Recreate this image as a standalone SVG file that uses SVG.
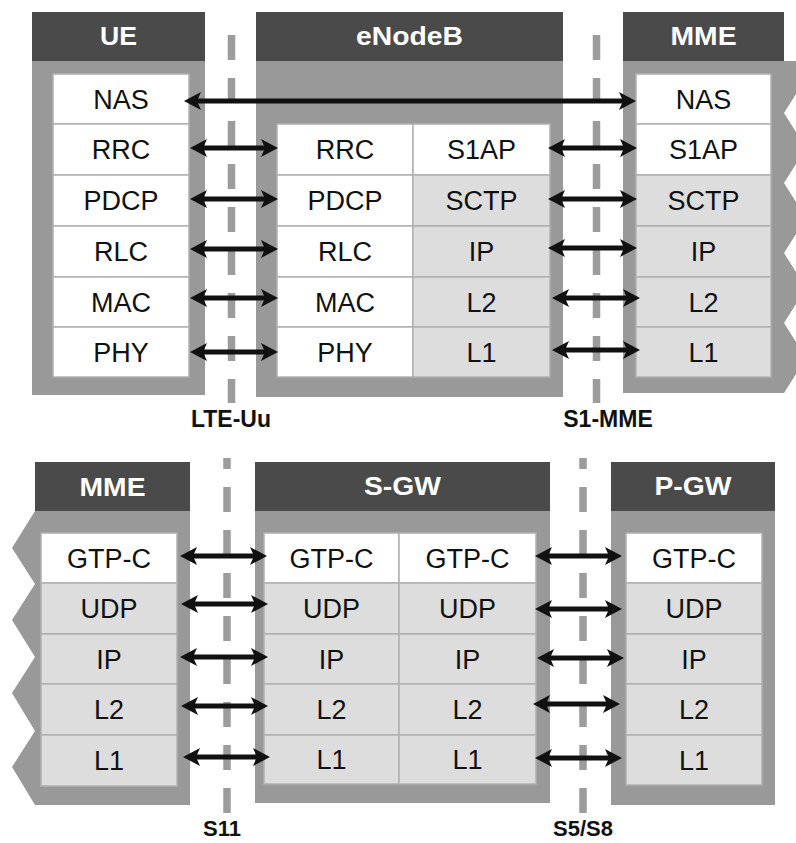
<svg xmlns="http://www.w3.org/2000/svg" width="796" height="843" viewBox="0 0 796 843">
<style>
.hdr{fill:#4a4a4a}
.body{fill:#999999}
.w{fill:#ffffff;stroke:#b0b0b0;stroke-width:1.5}
.g{fill:#dddddd;stroke:#b0b0b0;stroke-width:1.5}
.ht{font-family:"Liberation Sans",Arial,sans-serif;font-weight:bold;font-size:25px;fill:#ffffff;text-anchor:middle}
.ct{font-family:"Liberation Sans",Arial,sans-serif;font-size:27px;fill:#111111;text-anchor:middle}
.lt{font-family:"Liberation Sans",Arial,sans-serif;font-weight:bold;font-size:23px;fill:#111111;text-anchor:middle}
.dash{stroke:#9c9c9c;stroke-width:7.5;stroke-dasharray:25 18;fill:none}
.arr{stroke:#111111;stroke-width:5;fill:none;marker-start:url(#ah);marker-end:url(#ah)}
</style>
<defs>
<marker id="ah" viewBox="0 0 17 18" refX="7" refY="9" markerWidth="17" markerHeight="18" markerUnits="userSpaceOnUse" orient="auto-start-reverse">
<path d="M0,0 L17,9 L0,18 L4,9 Z" fill="#111111"/>
</marker>
</defs>

<g id="interfaces">
<line class="dash" x1="231.5" y1="35" x2="231.5" y2="403"/>
<line class="dash" x1="596.5" y1="35" x2="596.5" y2="403"/>
<line class="dash" x1="227" y1="458" x2="227" y2="813" stroke-dashoffset="14"/>
<line class="dash" x1="583" y1="458" x2="583" y2="813" stroke-dashoffset="14"/>
</g>

<g id="UE">
<rect class="hdr" x="32" y="12" width="173" height="49"/>
<text class="ht" x="118.5" y="45" textLength="37" lengthAdjust="spacingAndGlyphs">UE</text>
<rect class="body" x="32" y="61" width="173" height="334"/>
<rect class="w" x="53" y="74" width="136" height="50"/>
<rect class="w" x="53" y="124" width="136" height="51"/>
<rect class="w" x="53" y="175" width="136" height="51"/>
<rect class="w" x="53" y="226" width="136" height="51"/>
<rect class="w" x="53" y="277" width="136" height="50"/>
<rect class="w" x="53" y="327" width="136" height="50"/>
<text class="ct" x="121" y="108.5">NAS</text>
<text class="ct" x="121" y="159">RRC</text>
<text class="ct" x="121" y="210">PDCP</text>
<text class="ct" x="121" y="261">RLC</text>
<text class="ct" x="121" y="311.5">MAC</text>
<text class="ct" x="121" y="361.5">PHY</text>
</g>

<g id="eNodeB">
<rect class="hdr" x="256" y="12" width="307" height="49"/>
<text class="ht" x="409.5" y="45" textLength="107" lengthAdjust="spacingAndGlyphs">eNodeB</text>
<rect class="body" x="256" y="61" width="307" height="336"/>
<rect class="w" x="277" y="124" width="136" height="51"/>
<rect class="w" x="277" y="175" width="136" height="51"/>
<rect class="w" x="277" y="226" width="136" height="51"/>
<rect class="w" x="277" y="277" width="136" height="50"/>
<rect class="w" x="277" y="327" width="136" height="50"/>
<rect class="w" x="413" y="124" width="137" height="51"/>
<rect class="g" x="413" y="175" width="137" height="51"/>
<rect class="g" x="413" y="226" width="137" height="51"/>
<rect class="g" x="413" y="277" width="137" height="50"/>
<rect class="g" x="413" y="327" width="137" height="50"/>
<text class="ct" x="345" y="159">RRC</text>
<text class="ct" x="345" y="210">PDCP</text>
<text class="ct" x="345" y="261">RLC</text>
<text class="ct" x="345" y="311.5">MAC</text>
<text class="ct" x="345" y="361.5">PHY</text>
<text class="ct" x="481.5" y="159">S1AP</text>
<text class="ct" x="481.5" y="210">SCTP</text>
<text class="ct" x="481.5" y="261">IP</text>
<text class="ct" x="481.5" y="311.5">L2</text>
<text class="ct" x="481.5" y="361.5">L1</text>
</g>

<g id="MME-top">
<rect class="hdr" x="623" y="12" width="161" height="49"/>
<text class="ht" x="703.5" y="45" textLength="66" lengthAdjust="spacingAndGlyphs">MME</text>
<polygon class="body" points="623,61 800,61 806,78 784,113 806,148 784,183 806,218 784,253 806,288 784,323 806,358 784,393 623,393"/>
<rect class="w" x="636" y="74" width="135" height="50"/>
<rect class="w" x="636" y="124" width="135" height="51"/>
<rect class="g" x="636" y="175" width="135" height="51"/>
<rect class="g" x="636" y="226" width="135" height="51"/>
<rect class="g" x="636" y="277" width="135" height="50"/>
<rect class="g" x="636" y="327" width="135" height="50"/>
<text class="ct" x="703.5" y="108.5">NAS</text>
<text class="ct" x="703.5" y="159">S1AP</text>
<text class="ct" x="703.5" y="210">SCTP</text>
<text class="ct" x="703.5" y="261">IP</text>
<text class="ct" x="703.5" y="311.5">L2</text>
<text class="ct" x="703.5" y="361.5">L1</text>
</g>

<g id="MME-bottom">
<rect class="hdr" x="35" y="462" width="155" height="49"/>
<text class="ht" x="112.5" y="496" textLength="66" lengthAdjust="spacingAndGlyphs">MME</text>
<polygon class="body" points="190,511 35,511 12,548 35,584 12,620 35,657 12,693 35,731 12,767 35,805 190,805"/>
<rect class="w" x="41" y="533" width="136" height="50"/>
<rect class="g" x="41" y="583" width="136" height="51"/>
<rect class="g" x="41" y="634" width="136" height="50"/>
<rect class="g" x="41" y="684" width="136" height="51"/>
<rect class="g" x="41" y="735" width="136" height="51"/>
<text class="ct" x="109" y="567.5">GTP-C</text>
<text class="ct" x="109" y="618">UDP</text>
<text class="ct" x="109" y="668.5">IP</text>
<text class="ct" x="109" y="719">L2</text>
<text class="ct" x="109" y="770">L1</text>
</g>

<g id="S-GW">
<rect class="hdr" x="255" y="462" width="295" height="49"/>
<text class="ht" x="402.5" y="495" textLength="77" lengthAdjust="spacingAndGlyphs">S-GW</text>
<rect class="body" x="255" y="511" width="295" height="292"/>
<rect class="w" x="264" y="533" width="135" height="50"/>
<rect class="g" x="264" y="583" width="135" height="51"/>
<rect class="g" x="264" y="634" width="135" height="50"/>
<rect class="g" x="264" y="684" width="135" height="51"/>
<rect class="g" x="264" y="735" width="135" height="49"/>
<rect class="w" x="399" y="533" width="137" height="50"/>
<rect class="g" x="399" y="583" width="137" height="51"/>
<rect class="g" x="399" y="634" width="137" height="50"/>
<rect class="g" x="399" y="684" width="137" height="51"/>
<rect class="g" x="399" y="735" width="137" height="49"/>
<text class="ct" x="331.5" y="567.5">GTP-C</text>
<text class="ct" x="331.5" y="618">UDP</text>
<text class="ct" x="331.5" y="668.5">IP</text>
<text class="ct" x="331.5" y="719">L2</text>
<text class="ct" x="331.5" y="769">L1</text>
<text class="ct" x="467.5" y="567.5">GTP-C</text>
<text class="ct" x="467.5" y="618">UDP</text>
<text class="ct" x="467.5" y="668.5">IP</text>
<text class="ct" x="467.5" y="719">L2</text>
<text class="ct" x="467.5" y="769">L1</text>
</g>

<g id="P-GW">
<rect class="hdr" x="611" y="462" width="164" height="49"/>
<text class="ht" x="693" y="495" textLength="77" lengthAdjust="spacingAndGlyphs">P-GW</text>
<rect class="body" x="611" y="511" width="164" height="294"/>
<rect class="w" x="626" y="533" width="136" height="50"/>
<rect class="g" x="626" y="583" width="136" height="51"/>
<rect class="g" x="626" y="634" width="136" height="50"/>
<rect class="g" x="626" y="684" width="136" height="51"/>
<rect class="g" x="626" y="735" width="136" height="50"/>
<text class="ct" x="694" y="567.5">GTP-C</text>
<text class="ct" x="694" y="618">UDP</text>
<text class="ct" x="694" y="668.5">IP</text>
<text class="ct" x="694" y="719">L2</text>
<text class="ct" x="694" y="769.5">L1</text>
</g>

<g id="connectors">
<path class="arr" d="M194,101 H626"/>
<path class="arr" d="M200,148 H268"/>
<path class="arr" d="M200,199 H268"/>
<path class="arr" d="M200,249 H268"/>
<path class="arr" d="M200,298 H268"/>
<path class="arr" d="M200,352 H268"/>
<path class="arr" d="M558,148 H627"/>
<path class="arr" d="M558,199 H627"/>
<path class="arr" d="M558,248 H627"/>
<path class="arr" d="M562,298 H630"/>
<path class="arr" d="M562,350 H630"/>
<path class="arr" d="M190,556 H257"/>
<path class="arr" d="M191,604 H258"/>
<path class="arr" d="M190,657 H258"/>
<path class="arr" d="M191,706 H258"/>
<path class="arr" d="M193,757 H260"/>
<path class="arr" d="M545,556 H612"/>
<path class="arr" d="M545,609 H612"/>
<path class="arr" d="M547,658 H614"/>
<path class="arr" d="M543,704 H610"/>
<path class="arr" d="M545,758 H612"/>
</g>

<g id="labels">
<text class="lt" x="231" y="427">LTE-Uu</text>
<text class="lt" x="608" y="427">S1-MME</text>
<text class="lt" x="222" y="836" style="font-size:22px">S11</text>
<text class="lt" x="583" y="836" style="font-size:22px">S5/S8</text>
</g>
</svg>
